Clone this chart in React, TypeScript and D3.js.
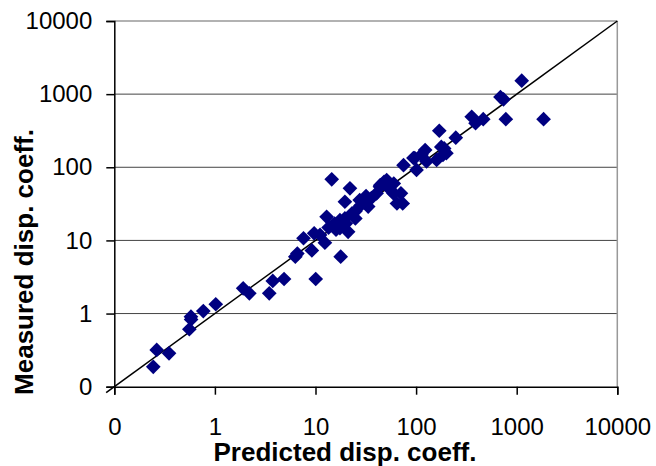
import * as d3 from 'd3'
import { useEffect, useRef } from 'react'

const tickValues = [0.1, 1, 10, 100, 1000, 10000]
const tickLabels = ['0', '1', '10', '100', '1000', '10000']

// predicted vs measured dispersion coefficient
const predicted = [
  0.244, 0.264, 0.35, 0.557, 0.578, 0.58, 0.767, 1.02, 1.91, 2.2,
  3.47, 3.76, 4.87, 10.05, 7.6, 6.3, 6.6, 9.2, 11.1, 12.4,
  9.7, 14.5, 12.9, 17.8, 19.6, 22, 17.5, 15.5, 27.5, 31.8,
  33.4, 43.7, 51, 59.5, 64.5, 40.5, 24.9, 21.1, 17.5, 15,
  23.1, 19.6, 24.9, 170, 357, 390, 248, 178, 185, 160,
  123, 113, 97, 101, 75, 127, 44, 70.7, 73.6, 60,
  200, 1122, 690, 740, 780, 1850, 465, 94, 190, 28,
  36, 48, 55, 13.5, 16, 20, 30
]
const measured = [
  0.187, 0.318, 0.286, 0.61, 0.906, 0.83, 1.08, 1.34, 2.21, 1.89,
  1.89, 2.79, 2.97, 2.97, 10.7, 6.0, 6.6, 7.3, 11.9, 9.3,
  12.5, 68.5, 21, 6.0, 33.8, 51.6, 14.7, 17, 35.6, 40.5,
  29, 54.3, 67, 44, 32, 44, 25, 13.1, 18.9, 16.3,
  23.5, 20, 20, 316, 491, 400, 254, 190, 148, 126,
  172, 148, 134, 92, 107, 120, 57, 44, 32, 60,
  156, 1528, 912, 850, 455, 455, 455, 134, 181, 30,
  38, 63, 50, 15, 14, 17, 35.6
]
const lineX = [0.083, 10000]

export default function App() {
  const svgRef = useRef(null)
  const width = 656, height = 466
  const left = 114.3, right = 617.3, top = 21, bottom = 386.7

  useEffect(() => {
    const svg = d3.select(svgRef.current)
    svg.selectAll('*').remove()

    const x = d3.scaleLog().domain([0.1, 10000]).range([left, right])
    const y = d3.scaleLog().domain([0.1, 10000]).range([bottom, top])
    const font = 'Liberation Sans, Arial, sans-serif'

    // grid
    svg.append('g').selectAll('line')
      .data(tickValues.slice(1, 5))
      .join('line')
        .attr('x1', left).attr('x2', right)
        .attr('y1', d => y(d)).attr('y2', d => y(d))
        .attr('stroke', '#444').attr('stroke-width', 1)

    // frame top/right
    svg.append('line').attr('x1', left).attr('x2', right).attr('y1', top).attr('y2', top)
      .attr('stroke', '#999').attr('stroke-width', 1.5)
    svg.append('line').attr('x1', right).attr('x2', right).attr('y1', top).attr('y2', bottom)
      .attr('stroke', '#999').attr('stroke-width', 1.5)

    // diagonal
    svg.append('path')
      .datum(lineX)
      .attr('d', d3.line<number>().x(d => x(d)).y(d => y(d)))
      .attr('stroke', '#000').attr('stroke-width', 1.5).attr('fill', 'none')

    // points
    const sym = d3.symbol().type(d3.symbolSquare).size(108)
    svg.append('g').selectAll('path')
      .data(predicted)
      .join('path')
        .attr('d', sym())
        .attr('transform', (d, i) => `translate(${x(d)},${y(measured[i])}) rotate(45)`)
        .attr('fill', '#000080')

    // axes
    const yAxis = d3.axisLeft(y).tickValues(tickValues).tickFormat((d, i) => tickLabels[i])
      .tickSize(8).tickPadding(14)
    svg.append('g')
      .attr('transform', `translate(${left},0)`)
      .call(yAxis)
      .call(g => g.select('.domain').attr('stroke', '#000').attr('stroke-width', 1.5))
      .call(g => g.selectAll('.tick line').attr('stroke', '#000').attr('stroke-width', 1.5))
      .call(g => g.selectAll('.tick text').style('font', `24px ${font}`).attr('fill', '#000'))

    const xAxis = d3.axisBottom(x).tickValues(tickValues).tickFormat((d, i) => tickLabels[i])
      .tickSize(8).tickPadding(23)
    svg.append('g')
      .attr('transform', `translate(0,${bottom})`)
      .call(xAxis)
      .call(g => g.select('.domain').attr('stroke', '#000').attr('stroke-width', 1.5))
      .call(g => g.selectAll('.tick line').attr('stroke', '#000').attr('stroke-width', 1.5))
      .call(g => g.selectAll('.tick text').style('font', `24px ${font}`).attr('fill', '#000'))

    // titles
    svg.append('text')
      .attr('x', 345).attr('y', 461)
      .attr('text-anchor', 'middle')
      .style('font', `bold 26px ${font}`)
      .text('Predicted disp. coeff.')

    svg.append('text')
      .attr('transform', 'translate(33,262) rotate(-90)')
      .attr('text-anchor', 'middle')
      .style('font', `bold 26px ${font}`)
      .text('Measured disp. coeff.')
  }, [])

  return (
    <svg ref={svgRef} width={width} height={height}
      style={{ position: 'absolute', left: 0, top: 0, background: '#fff' }} />
  )
}
